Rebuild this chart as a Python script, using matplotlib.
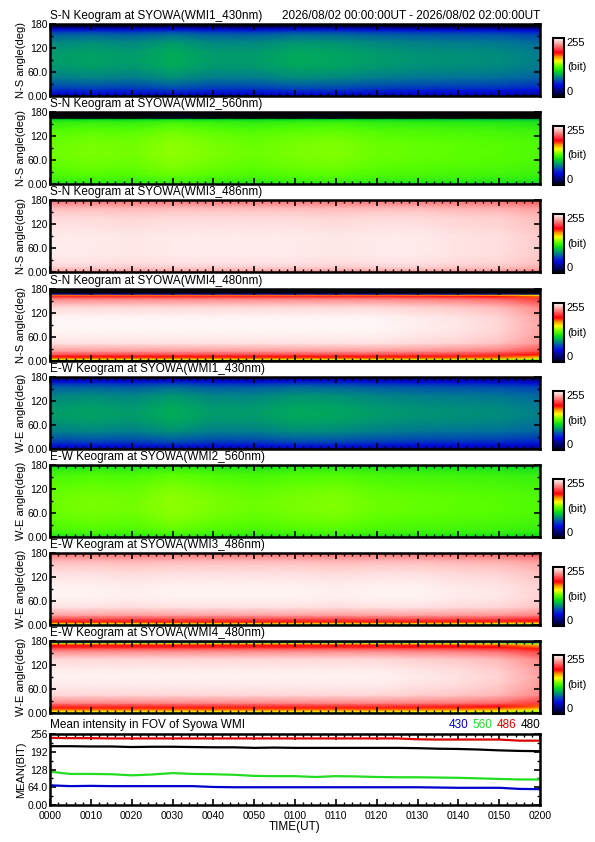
import numpy as np
import matplotlib
matplotlib.use("Agg")
import matplotlib.pyplot as plt
from matplotlib.colors import LinearSegmentedColormap
from matplotlib.ticker import MultipleLocator, FixedLocator

plt.rcParams['font.family'] = ['Liberation Sans', 'DejaVu Sans']

W, H = 595, 842

# ---------- keogram data (bit, 0-255) ----------
ANGLE = [0, 1, 2, 4, 7, 11, 16, 25, 45, 70, 90, 110, 135, 155, 162, 165, 168, 171, 174, 177, 180]
KEO_TIME = [0, 10, 20, 30, 40, 50, 60, 70, 80, 90, 100, 110, 120]

TITLES = [
    "S-N Keogram at SYOWA(WMI1_430nm)",
    "S-N Keogram at SYOWA(WMI2_560nm)",
    "S-N Keogram at SYOWA(WMI3_486nm)",
    "S-N Keogram at SYOWA(WMI4_480nm)",
    "E-W Keogram at SYOWA(WMI1_430nm)",
    "E-W Keogram at SYOWA(WMI2_560nm)",
    "E-W Keogram at SYOWA(WMI3_486nm)",
    "E-W Keogram at SYOWA(WMI4_480nm)",
]
YLABELS = ["N-S angle(deg)"] * 4 + ["W-E angle(deg)"] * 4

# profiles along the angle axis (one value per ANGLE node)
sn_430 = [38, 40, 42, 45, 48, 54, 60, 70, 84, 91, 93, 92, 87, 74, 62, 54, 44, 30, 14, 6, 3]
sn_560 = [105, 110, 115, 120, 122, 125, 127, 130, 133, 135, 135, 134, 130, 122, 108, 0, 0, 0, 0, 0, 0]
sn_486 = [212, 218, 224, 232, 238, 242, 245, 248, 250, 250, 250, 248, 246, 240, 236, 233, 230, 228, 225, 222, 220]
sn_480 = [0, 0, 0, 150, 178, 192, 210, 230, 248, 252, 253, 252, 245, 225, 200, 178, 40, 0, 0, 0, 0]
ew_430 = [30, 34, 38, 43, 48, 54, 62, 72, 85, 91, 93, 91, 86, 74, 65, 59, 52, 45, 36, 27, 20]
ew_560 = [95, 105, 112, 118, 122, 125, 128, 130, 133, 135, 135, 134, 131, 128, 125, 124, 122, 120, 118, 115, 112]
ew_486 = [110, 115, 125, 160, 185, 200, 212, 232, 248, 252, 252, 250, 246, 240, 236, 233, 230, 228, 225, 222, 220]
ew_480 = [110, 120, 140, 160, 172, 185, 200, 225, 245, 250, 252, 250, 245, 225, 210, 200, 195, 188, 160, 90, 30]

# change over time (offset per KEO_TIME node)
dt_430 = [0, 2, 0, 5, 0, 0, 4, 3, 0, -2, -3, -4, -8]
dt_560 = [0, 2, 1, 5, 2, 0, 2, 3, 0, -1, -2, -3, -5]
dt_486 = [0, 0, -1, 0, 0, 0, 0, -1, 0, 0, -2, -3, -8]
dt_480 = [0, 0, 0, 0, 0, 0, 0, 0, 0, -2, -4, -8, -20]

PROFILES = [sn_430, sn_560, sn_486, sn_480, ew_430, ew_560, ew_486, ew_480]
OFFSETS = [dt_430, dt_560, dt_486, dt_480, dt_430, dt_560, dt_486, dt_480]

# ---------- mean intensity data ----------
MEAN_TIME = list(range(0, 121, 5))
mean_430 = [71, 68, 69, 68, 68, 68, 68, 68, 65, 64, 64, 64, 64, 64, 64, 64, 64, 64, 64, 63, 62, 62, 62, 58, 57]
mean_560 = [120, 112, 112, 111, 107, 110, 115, 112, 111, 109, 105, 104, 104, 101, 104, 103, 101, 100, 100, 99, 98, 96, 94, 92, 92]
mean_486 = [242, 241, 241, 240, 240, 240, 240, 240, 240, 240, 240, 240, 240, 240, 240, 240, 240, 240, 237, 236, 236, 236, 236, 232, 232]
mean_480 = [212, 212, 211, 211, 209, 210, 210, 209, 208, 208, 206, 207, 206, 206, 206, 206, 206, 206, 205, 203, 202, 200, 197, 195, 194]
MEAN_NAMES = ["430", "560", "486", "480"]
MEAN_COLORS = ["#0000cc", "#22dd22", "#dd0000", "#000000"]

XTICKS = list(range(0, 121, 10))
XLABELS = ["0000", "0010", "0020", "0030", "0040", "0050", "0100",
           "0110", "0120", "0130", "0140", "0150", "0200"]

# IDL-like colour table: black - blue - green - yellow - red - white
cmap = LinearSegmentedColormap.from_list("wmi", [
    (0.00, (0.0, 0.0, 0.0)),
    (0.06, (0.0, 0.0, 0.35)),
    (0.20, (0.0, 0.05, 0.85)),
    (0.32, (0.0, 0.45, 0.6)),
    (0.43, (0.0, 0.85, 0.15)),
    (0.52, (0.35, 1.0, 0.0)),
    (0.61, (1.0, 1.0, 0.0)),
    (0.68, (1.0, 0.6, 0.0)),
    (0.75, (1.0, 0.0, 0.0)),
    (0.85, (1.0, 0.4, 0.4)),
    (1.00, (1.0, 1.0, 1.0)),
])


def fig_rect(left, top, right, bottom):
    return [left / W, 1 - bottom / H, (right - left) / W, (bottom - top) / H]


def style_axis(ax):
    ax.set_xlim(0, 120)
    ax.xaxis.set_major_locator(FixedLocator(XTICKS))
    ax.xaxis.set_minor_locator(MultipleLocator(2))
    ax.tick_params(which='both', direction='in', top=True, right=True, colors='black',
                   labelsize=7.5)
    ax.tick_params(axis='y', pad=1.5)
    ax.tick_params(axis='x', pad=4)
    ax.tick_params(which='major', length=4, width=1.2)
    ax.tick_params(which='minor', length=2, width=1.0)
    for sp in ax.spines.values():
        sp.set_linewidth(1.8)


fig = plt.figure(figsize=(W / 100, H / 100), dpi=100)

AX_L, AX_R = 50, 540
panel_tops = [24, 112, 200, 289, 377, 465, 553, 641]
PANEL_H = 72

for k in range(8):
    top = panel_tops[k]
    ax = fig.add_axes(fig_rect(AX_L, top, AX_R, top + PANEL_H))
    z = np.array(PROFILES[k], dtype=float)[:, None] + np.array(OFFSETS[k], dtype=float)[None, :]
    z = np.clip(z, 0, 255)
    mesh = ax.pcolormesh(KEO_TIME, ANGLE, z, cmap=cmap, vmin=0, vmax=255, shading='gouraud')
    style_axis(ax)
    ax.set_ylim(0, 180)
    ax.yaxis.set_major_locator(FixedLocator([0, 60, 120, 180]))
    ax.yaxis.set_minor_locator(MultipleLocator(30))
    ax.set_yticklabels(["0.00", "60.0", "120", "180"])
    ax.set_xticklabels([])
    ax.set_ylabel(YLABELS[k], fontsize=8, labelpad=1)
    ax.text(0, 1.03, TITLES[k], transform=ax.transAxes, fontsize=8.5, ha='left', va='bottom')
    if k == 0:
        ax.text(1, 1.03, "2026/08/02 00:00:00UT - 2026/08/02 02:00:00UT",
                transform=ax.transAxes, fontsize=8.5, ha='right', va='bottom')

    cax = fig.add_axes(fig_rect(553, top + 14, 564, top + PANEL_H + 1))
    cb = fig.colorbar(mesh, cax=cax, ticks=[])
    cb.outline.set_linewidth(1.5)
    cax.text(1.25, 1.0, "255", transform=cax.transAxes, fontsize=8, ha='left', va='top')
    cax.text(1.25, 0.5, "(bit)", transform=cax.transAxes, fontsize=8, ha='left', va='center')
    cax.text(1.25, 0.0, "0", transform=cax.transAxes, fontsize=8, ha='left', va='bottom')

# mean intensity panel
ax = fig.add_axes(fig_rect(AX_L, 734, AX_R, 805))
for vals, col in zip([mean_486, mean_480, mean_560, mean_430],
                     [MEAN_COLORS[2], MEAN_COLORS[3], MEAN_COLORS[1], MEAN_COLORS[0]]):
    ax.plot(MEAN_TIME, vals, color=col, linewidth=1.6)
style_axis(ax)
ax.set_ylim(0, 256)
ax.yaxis.set_major_locator(FixedLocator([0, 64, 128, 192, 256]))
ax.yaxis.set_minor_locator(MultipleLocator(32))
ax.set_yticklabels(["0.00", "64.0", "128", "192", "256"])
ax.set_xticklabels(XLABELS)
ax.set_ylabel("MEAN(BIT)", fontsize=8, labelpad=1)
ax.set_xlabel("TIME(UT)", fontsize=8.5, labelpad=0)
ax.text(0, 1.04, "Mean intensity in FOV of Syowa WMI", transform=ax.transAxes,
        fontsize=8.5, ha='left', va='bottom')

# coloured wavelength legend, right aligned above the panel
x = 1.0
for name, col in reversed(list(zip(MEAN_NAMES, MEAN_COLORS))):
    t = ax.text(x, 1.04, name, transform=ax.transAxes, fontsize=8.5, color=col,
                ha='right', va='bottom')
    fig.canvas.draw()
    bb = t.get_window_extent()
    x -= (bb.width + 4) / ax.get_window_extent().width

fig.savefig("out.png", dpi=100)
